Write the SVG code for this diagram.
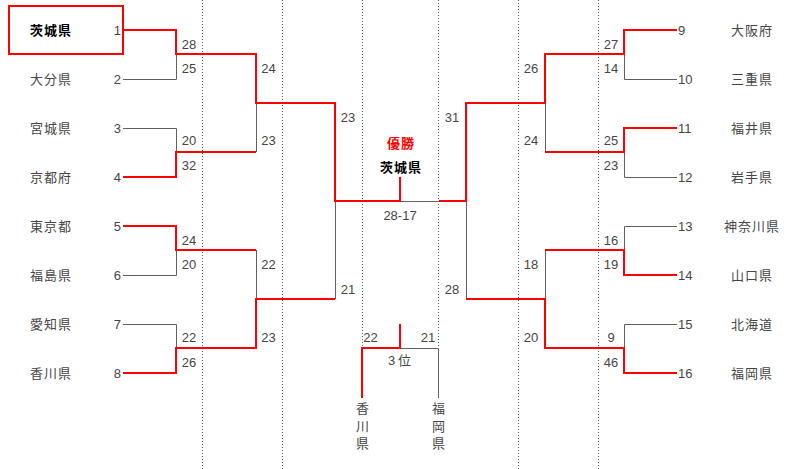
<svg xmlns="http://www.w3.org/2000/svg" width="800" height="469" viewBox="0 0 800 469">
<style>
text{font-family:"Liberation Sans","Noto Sans CJK JP",sans-serif;font-size:13px;fill:#454545}
.nm{text-anchor:middle;letter-spacing:1px}
.win{font-weight:bold;fill:#000}
.nl{text-anchor:end}
.nr{text-anchor:start}
.sc{text-anchor:middle}
.g{fill:none;stroke:#606060;stroke-width:1}
.r{fill:none;stroke:#ff0000;stroke-width:2}
.d{fill:none;stroke:#606060;stroke-width:1;stroke-dasharray:1 2}
</style>
<rect width="800" height="469" fill="#fff"/>
<g id="guides">
<line class="d" x1="202.5" y1="0" x2="202.5" y2="469"/>
<line class="d" x1="282.5" y1="0" x2="282.5" y2="469"/>
<line class="d" x1="362.5" y1="0" x2="362.5" y2="346"/>
<line class="d" x1="438.5" y1="0" x2="438.5" y2="346"/>
<line class="d" x1="518.5" y1="0" x2="518.5" y2="469"/>
<line class="d" x1="598.5" y1="0" x2="598.5" y2="469"/>
</g>
<g id="connectors">
<path class="g" d="M123 79.5H176.5V54 M123 128.5H176.5V152 M256.5 103V152 M123 275.5H176.5V250 M123 324.5H176.5V348 M256.5 250V299 M335.5 201V299"/>
<path class="g" d="M677 79.5H624.5V54 M677 177.5H624.5V152 M545.5 103V152 M677 226.5H624.5V250 M545.5 250V299 M677 324.5H624.5V348 M466.5 201V299 M400 201.5H439"/>
<path class="g" d="M400 348.5H438.5V398"/>
<path class="r" d="M123 30H176V54H256V103H335V201H400V177"/>
<path class="r" d="M123 177H176V152H256"/>
<path class="r" d="M123 226H176V250H256"/>
<path class="r" d="M123 373H176V348H256V299H335"/>
<path class="r" d="M677 30H624V54H545V103H466V201H439"/>
<path class="r" d="M677 128H624V152H545"/>
<path class="r" d="M677 275H624V250H545"/>
<path class="r" d="M677 373H624V348H545V299H466"/>
<path class="r" d="M400 324V348H362V398"/>
</g>
<g id="scores">
<text class="sc" x="189" y="48.5">28</text>
<text class="sc" x="189" y="73">25</text>
<text class="sc" x="189" y="145">20</text>
<text class="sc" x="189" y="170">32</text>
<text class="sc" x="189" y="244.5">24</text>
<text class="sc" x="189" y="268.5">20</text>
<text class="sc" x="189" y="341.5">22</text>
<text class="sc" x="189" y="366.5">26</text>
<text class="sc" x="268.5" y="73">24</text>
<text class="sc" x="268.5" y="145">23</text>
<text class="sc" x="268.5" y="268.5">22</text>
<text class="sc" x="268.5" y="341.5">23</text>
<text class="sc" x="348" y="122">23</text>
<text class="sc" x="348" y="293.5">21</text>
<text class="sc" x="611" y="48.5">27</text>
<text class="sc" x="611" y="73">14</text>
<text class="sc" x="611" y="145">25</text>
<text class="sc" x="611" y="170">23</text>
<text class="sc" x="611" y="244.5">16</text>
<text class="sc" x="611" y="268.5">19</text>
<text class="sc" x="611" y="341.5">9</text>
<text class="sc" x="611" y="366.5">46</text>
<text class="sc" x="531" y="73">26</text>
<text class="sc" x="531" y="145">24</text>
<text class="sc" x="531" y="268.5">18</text>
<text class="sc" x="531" y="341.5">20</text>
<text class="sc" x="452" y="122">31</text>
<text class="sc" x="452" y="293.5">28</text>
<text class="sc" x="400" y="220">28-17</text>
<text class="sc" x="370.5" y="342">22</text>
<text class="sc" x="428" y="342">21</text>
</g>
<g id="champion">
<text x="401" y="147.5" style="text-anchor:middle;font-weight:bold;fill:#ff0000;letter-spacing:1px">優勝</text>
<text x="401" y="172" class="win" style="text-anchor:middle;letter-spacing:1px">茨城県</text>
</g>
<g id="third-place">
<text x="401" y="365" style="text-anchor:middle;letter-spacing:3px">3位</text>
<text x="362.5" y="413" style="text-anchor:middle">香</text>
<text x="362.5" y="431" style="text-anchor:middle">川</text>
<text x="362.5" y="448" style="text-anchor:middle">県</text>
<text x="438.5" y="413" style="text-anchor:middle">福</text>
<text x="438.5" y="431" style="text-anchor:middle">岡</text>
<text x="438.5" y="448" style="text-anchor:middle">県</text>
</g>
<g id="team1"><rect x="9" y="6" width="114" height="48" fill="none" stroke="#ff0000" stroke-width="2"/><text class="nm win" x="51" y="35">茨城県</text><text class="nl" x="121" y="34.5">1</text></g>
<g id="team2"><text class="nm" x="51" y="84">大分県</text><text class="nl" x="121" y="83.5">2</text></g>
<g id="team3"><text class="nm" x="51" y="133">宮城県</text><text class="nl" x="121" y="132.5">3</text></g>
<g id="team4"><text class="nm" x="51" y="182">京都府</text><text class="nl" x="121" y="181.5">4</text></g>
<g id="team5"><text class="nm" x="51" y="231">東京都</text><text class="nl" x="121" y="230.5">5</text></g>
<g id="team6"><text class="nm" x="51" y="280">福島県</text><text class="nl" x="121" y="279.5">6</text></g>
<g id="team7"><text class="nm" x="51" y="329">愛知県</text><text class="nl" x="121" y="328.5">7</text></g>
<g id="team8"><text class="nm" x="51" y="378">香川県</text><text class="nl" x="121" y="377.5">8</text></g>
<g id="team9"><text class="nm" x="752" y="35">大阪府</text><text class="nr" x="678" y="34.5">9</text></g>
<g id="team10"><text class="nm" x="752" y="84">三重県</text><text class="nr" x="678" y="83.5">10</text></g>
<g id="team11"><text class="nm" x="752" y="133">福井県</text><text class="nr" x="678" y="132.5">11</text></g>
<g id="team12"><text class="nm" x="752" y="182">岩手県</text><text class="nr" x="678" y="181.5">12</text></g>
<g id="team13"><text class="nm" x="752" y="231">神奈川県</text><text class="nr" x="678" y="230.5">13</text></g>
<g id="team14"><text class="nm" x="752" y="280">山口県</text><text class="nr" x="678" y="279.5">14</text></g>
<g id="team15"><text class="nm" x="752" y="329">北海道</text><text class="nr" x="678" y="328.5">15</text></g>
<g id="team16"><text class="nm" x="752" y="378">福岡県</text><text class="nr" x="678" y="377.5">16</text></g>
</svg>
